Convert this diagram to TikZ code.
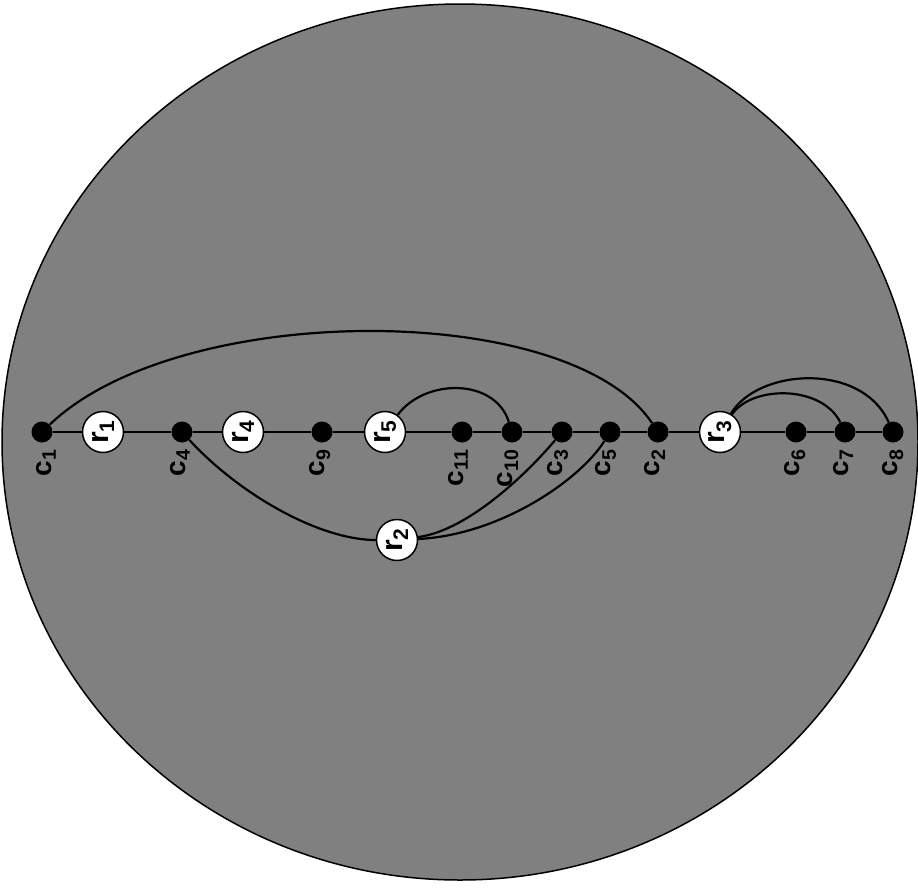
\documentclass[tikz,border=0pt]{standalone}
\usepackage{fontspec}
\setsansfont{Liberation Sans}
\begin{document}
\begin{tikzpicture}[x=1pt,y=1pt,
  cdot/.style={circle,fill=black,inner sep=0pt,minimum size=21pt},
  rnode/.style={circle,draw=black,line width=1.5pt,fill=white,inner sep=0pt,minimum size=41pt,
    font=\sffamily\bfseries\fontsize{30}{32}\selectfont,rotate=90},
  clab/.style={font=\sffamily\bfseries\fontsize{28}{30}\selectfont,rotate=90,inner sep=0pt,anchor=east},
  spine/.style={line width=1.3pt},
  arc/.style={line width=2.2pt}]
\useasboundingbox (0,0) rectangle (918,-887);
\fill[black!50] (460,-442) ellipse [x radius=458, y radius=438];
\draw[line width=1.5pt] (460,-442) ellipse [x radius=458, y radius=438];
% nodes
\node[cdot] (c1) at (42,-432) {};
\node[rnode] (r1) at (103,-432) {r\textsubscript{1}};
\node[cdot] (c4) at (182,-432) {};
\node[rnode] (r4) at (243,-432) {r\textsubscript{4}};
\node[cdot] (c9) at (322,-432) {};
\node[rnode] (r5) at (385,-432) {r\textsubscript{5}};
\node[cdot] (c11) at (462,-432) {};
\node[cdot] (c10) at (512,-432) {};
\node[cdot] (c3) at (562,-432) {};
\node[cdot] (c5) at (610,-432) {};
\node[cdot] (c2) at (658,-432) {};
\node[rnode] (r3) at (720,-432) {r\textsubscript{3}};
\node[cdot] (c6) at (796,-432) {};
\node[cdot] (c7) at (845,-432) {};
\node[cdot] (c8) at (893,-432) {};
\node[rnode] (r2) at (397,-540) {r\textsubscript{2}};
% labels
\node[clab] (l1) at (46,-449) {c\textsubscript{1}};
\node[clab] (l4) at (180,-449) {c\textsubscript{4}};
\node[clab] (l9) at (320,-449) {c\textsubscript{9}};
\node[clab] (l11) at (458,-449) {c\textsubscript{11}};
\node[clab] (l10) at (508,-449) {c\textsubscript{10}};
\node[clab] (l3) at (558,-449) {c\textsubscript{3}};
\node[clab] (l5) at (606,-449) {c\textsubscript{5}};
\node[clab] (l2) at (655,-449) {c\textsubscript{2}};
\node[clab] (l6) at (795,-449) {c\textsubscript{6}};
\node[clab] (l7) at (843,-449) {c\textsubscript{7}};
\node[clab] (l8) at (893,-449) {c\textsubscript{8}};
% spine
\draw[spine] (c1) -- (r1) -- (c4) -- (r4) -- (c9) -- (r5) -- (c11) -- (c10) -- (c3) -- (c5) -- (c2) -- (r3) -- (c6) -- (c7) -- (c8);
% arcs
\draw[arc] (c1) .. controls (180,-300) and (570,-300) .. (c2);
\draw[arc] (r5) .. controls (425,-378) and (495,-378) .. (c10);
\draw[arc] (r3) .. controls (752,-385) and (822,-385) .. (c7);
\draw[arc] (r3) .. controls (758,-368) and (862,-362) .. (c8);
\draw[arc] (c4) .. controls (240,-495) and (320,-540) .. (r2);
\draw[arc] (r2) .. controls (470,-530) and (530,-470) .. (c3);
\draw[arc] (r2) .. controls (500,-535) and (580,-480) .. (c5);
\end{tikzpicture}
\end{document}
